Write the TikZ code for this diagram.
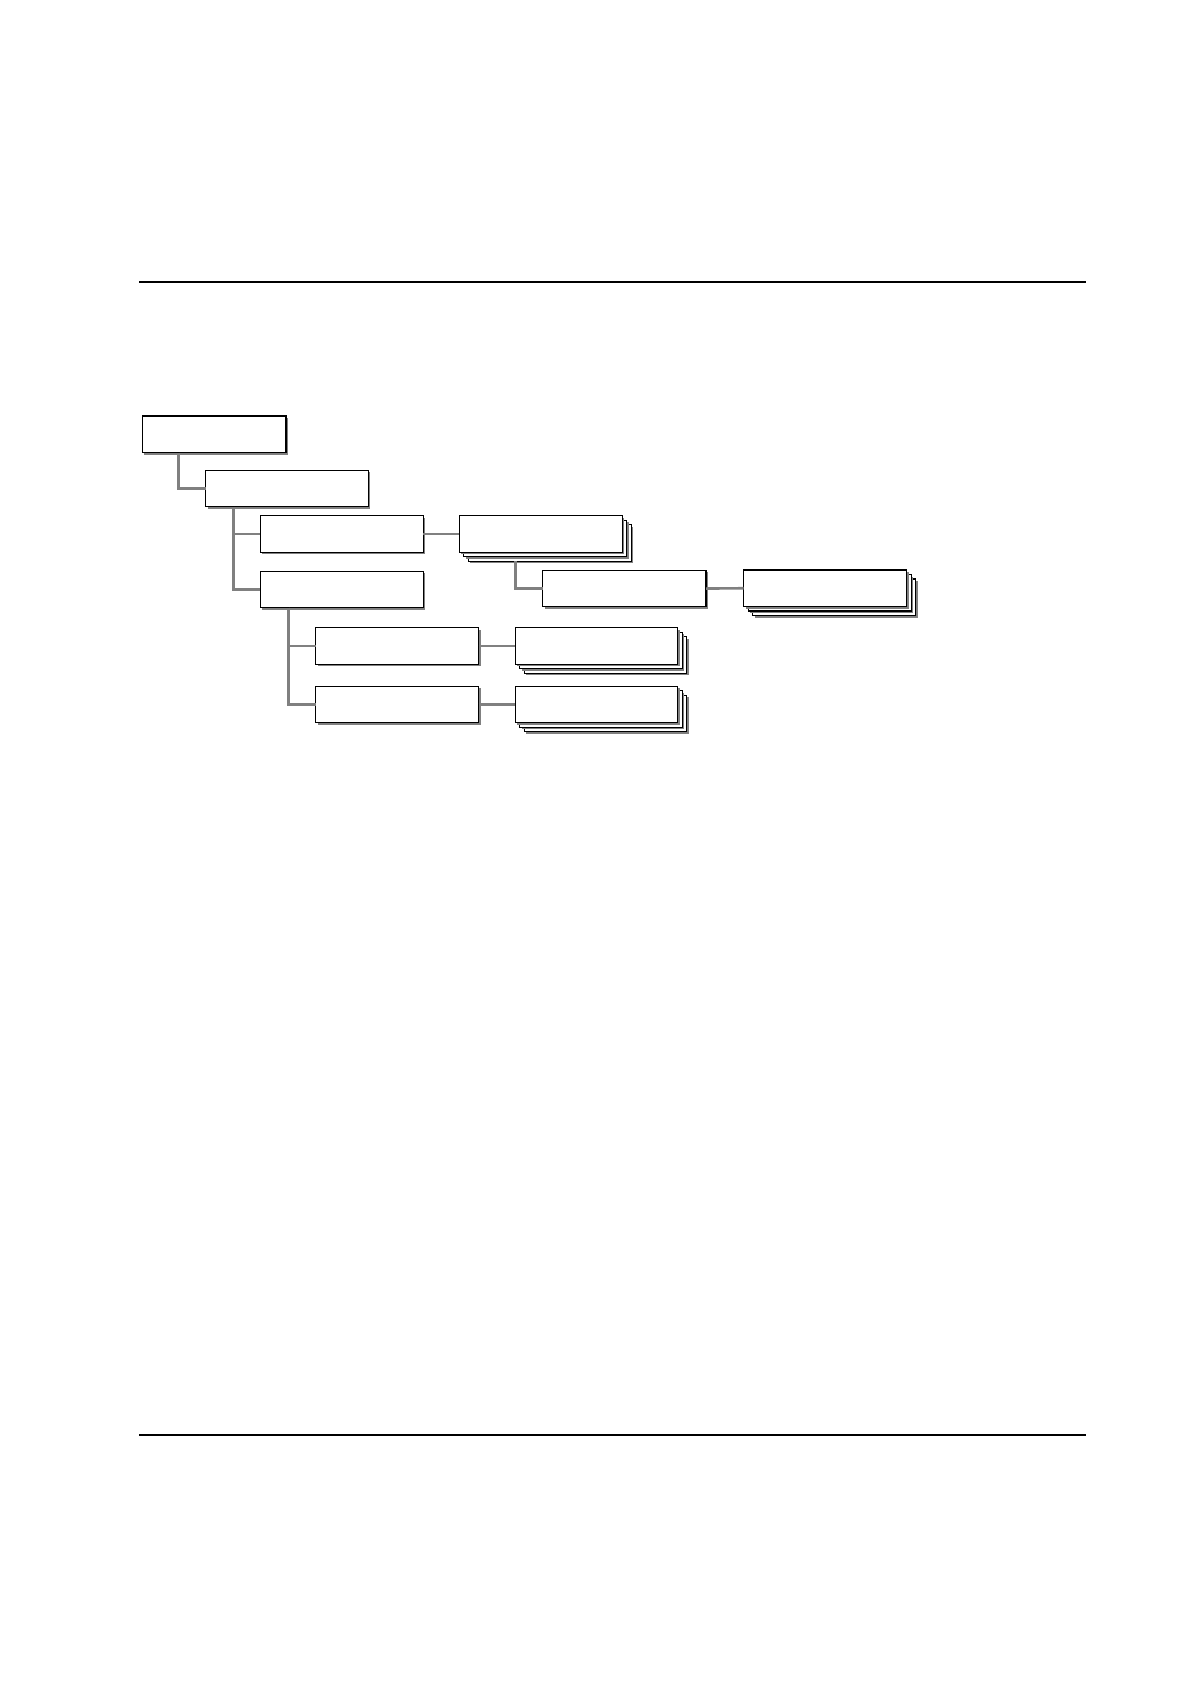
\documentclass[tikz,border=0pt]{standalone}
\begin{document}
\tikzset{
  box/.style={draw=black, line width=1.2pt, fill=white, minimum height=36.5pt,
    minimum width=163pt, inner sep=0pt, outer sep=0pt, anchor=north west},
  boxshade/.style={fill=black!50},
  conn/.style={draw=black!50, line width=2.6pt},
  hrule/.style={draw=black, line width=2pt}
}
\newcommand\shbox[4]{%
  \fill[boxshade] (#2+2,#3+2) rectangle ++(#4,36.5);
  \node[box, minimum width=#4 pt] (#1) at (#2,#3) {};}
\newcommand\stackbox[4]{%
  \shbox{#1c}{#2+9}{#3+9}{#4}%
  \shbox{#1b}{#2+4.5}{#3+4.5}{#4}%
  \shbox{#1}{#2}{#3}{#4}}
\begin{tikzpicture}[x=1pt,y=-1pt]
\useasboundingbox[fill=white] (0,0) rectangle (1191,1683);
% horizontal rules
\coordinate (r1a) at (139,281.7);
\coordinate (r1b) at (1086,281.7);
\coordinate (r2a) at (139,1434.7);
\coordinate (r2b) at (1086,1434.7);
\draw[hrule] (r1a) -- (r1b);
\draw[hrule] (r2a) -- (r2b);
% boxes
\shbox{b1}{142.3}{416}{143.7}
\shbox{b2}{205.7}{470.3}{162.6}
\shbox{b3}{260.3}{515.7}{163}
\stackbox{b4}{459.3}{515.7}{163}
\shbox{b5}{542.7}{570.3}{163.3}
\stackbox{b6}{743.7}{570}{163}
\shbox{b3b}{260.3}{571.2}{163}
\shbox{b7}{315.7}{627.7}{163}
\stackbox{b8}{515.3}{627.7}{162.4}
\shbox{b9}{315.7}{686.3}{163}
\stackbox{b10}{515.3}{686.3}{162.4}
% connectors
\draw[conn] ([xshift=36pt]b1.south west) |- (b2.west);
\draw[conn] ([xshift=27.6pt]b2.south west) |- (b3.west);
\draw[conn] ([xshift=27.6pt]b2.south west) |- (b3b.west);
\draw[conn] (b3.east) -- (b4.west);
\draw[conn] ([xshift=47.4pt]b4c.south west) |- (b5.west);
\draw[conn] (b5.east) -- (b6.west);
\draw[conn] ([xshift=28pt]b3b.south west) |- (b7.west);
\draw[conn] ([xshift=28pt]b3b.south west) |- (b9.west);
\draw[conn] (b7.east) -- (b8.west);
\draw[conn] (b9.east) -- (b10.west);
\end{tikzpicture}
\end{document}
